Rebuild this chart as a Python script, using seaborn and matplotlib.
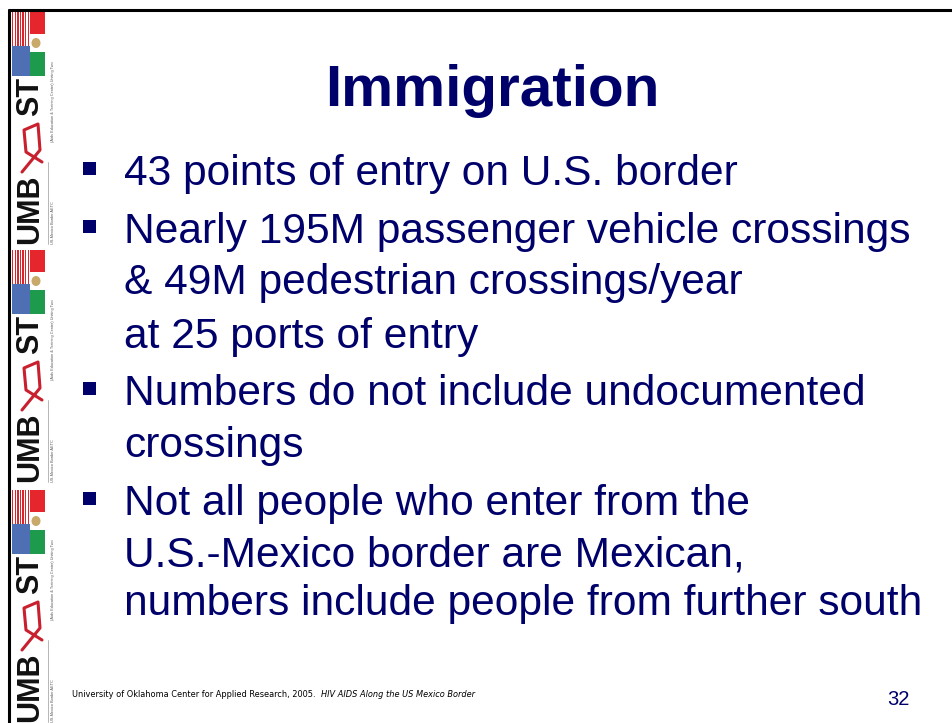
import matplotlib
matplotlib.use('Agg')
import matplotlib.pyplot as plt
import matplotlib.patches as mpatches
from matplotlib import font_manager
import seaborn as sns

# Slide content
title = 'Immigration'
bullets = [
    ['43 points of entry on U.S. border'],
    ['Nearly 195M passenger vehicle crossings',
     '& 49M pedestrian crossings/year',
     'at 25 ports of entry'],
    ['Numbers do not include undocumented',
     'crossings'],
    ['Not all people who enter from the',
     'U.S.-Mexico border are Mexican,',
     'numbers include people from further south'],
]
footer_plain = 'University of Oklahoma Center for Applied Research, 2005.'
footer_italic = 'HIV AIDS Along the US Mexico Border'
page_number = '32'

NAVY = '#00006b'
W, H = 952, 723


def draw_logo(ax, y0):
    # flag block: US on the left, Mexico on the right
    for i in range(7):
        ax.add_patch(mpatches.Rectangle((12 + i * 2.6, y0), 1.3, 34,
                                        color='#d8262f', lw=0))
    ax.add_patch(mpatches.Rectangle((12, y0 + 34), 18, 30, color='#4f6fb5', lw=0))
    ax.add_patch(mpatches.Rectangle((30, y0), 15, 22, color='#e5262c', lw=0))
    ax.add_patch(mpatches.Rectangle((30, y0 + 40), 15, 24, color='#1e9a4c', lw=0))
    ax.add_patch(mpatches.Ellipse((36, y0 + 31), 9, 10, color='#c9a96a', lw=0))
    # "UMB" ribbon "ST"
    ax.text(30, y0 + 104, 'ST', rotation=90, ha='center', va='bottom',
            fontsize=22, fontweight='bold', color='#111111',
            family='Liberation Sans', clip_on=True)
    ax.plot([22, 40, 38, 24, 26, 42], [y0 + 160, y0 + 138, y0 + 112,
                                       y0 + 118, y0 + 140, y0 + 150],
            color='#c8202e', lw=2.2, solid_capstyle='round', clip_on=True)
    ax.text(30, y0 + 232, 'UMB', rotation=90, ha='center', va='bottom',
            fontsize=22, fontweight='bold', color='#111111',
            family='Liberation Sans', clip_on=True)
    ax.plot([48, 48], [y0 + 150, y0 + 232], color='#999999', lw=0.5)
    ax.text(53, y0 + 232, 'US-Mexico Border AETC', rotation=90, ha='center',
            va='bottom', fontsize=2.8, color='#555555', clip_on=True)
    ax.text(53, y0 + 130, '(Aids Education & Training Center) Uniting Two',
            rotation=90, ha='center', va='bottom', fontsize=2.8,
            color='#555555', clip_on=True)


def main():
    sns.set_theme(style='white')
    plt.rcParams['font.family'] = ['Liberation Sans', 'DejaVu Sans']

    # pick a narrow face for the footer if one is installed
    fonts = font_manager.fontManager.ttflist
    names = {f.name for f in fonts}
    foot_kw = dict(family='Liberation Sans')
    if 'Liberation Sans Narrow' in names:
        foot_kw = dict(family='Liberation Sans Narrow')
    elif any(f.name == 'DejaVu Sans' and 'condensed' in str(f.stretch) for f in fonts):
        foot_kw = dict(family='DejaVu Sans', fontstretch='condensed')

    fig = plt.figure(figsize=(W / 100, H / 100), dpi=100)
    ax = fig.add_axes([0, 0, 1, 1])
    ax.set_xlim(0, W)
    ax.set_ylim(H, 0)
    ax.axis('off')

    # border lines
    ax.plot([9, W], [10, 10], color='black', lw=2.2)
    ax.plot([9, 9], [10, H], color='black', lw=2.2)

    for y0 in [12, 250, 490]:
        draw_logo(ax, y0)

    # title
    ax.text(492, 106, title, ha='center', va='baseline', fontsize=42,
            fontweight='bold', color=NAVY)

    # bullets
    baselines = [[185], [243, 294, 348], [405, 457], [515, 566, 615]]
    for lines, ys in zip(bullets, baselines):
        ax.add_patch(mpatches.Rectangle((83, ys[0] - 23), 13, 13,
                                        color=NAVY, lw=0))
        for line, y in zip(lines, ys):
            ax.text(124, y, line, ha='left', va='baseline', fontsize=30.6,
                    color=NAVY)

    # footer, sized to a compromise between its width and height on the slide
    fs = 9.2
    t = ax.text(72, 697, footer_plain + '  ', ha='left', va='baseline',
                fontsize=fs, color='black', **foot_kw)
    fig.canvas.draw()
    w_plain = t.get_window_extent().width
    fs = min(9.2, max(6.6, fs * 205 / w_plain))
    t.set_fontsize(fs)
    fig.canvas.draw()
    bb = t.get_window_extent()
    ax.text(bb.x1, H - 697, footer_italic, ha='left', va='baseline',
            fontsize=fs, style='italic', color='black',
            transform=None, **foot_kw)
    ax.text(898, 705, page_number, ha='center', va='baseline', fontsize=14.5,
            color=NAVY)

    fig.savefig('out.png', dpi=100)
    plt.close(fig)


if __name__ == '__main__':
    main()
